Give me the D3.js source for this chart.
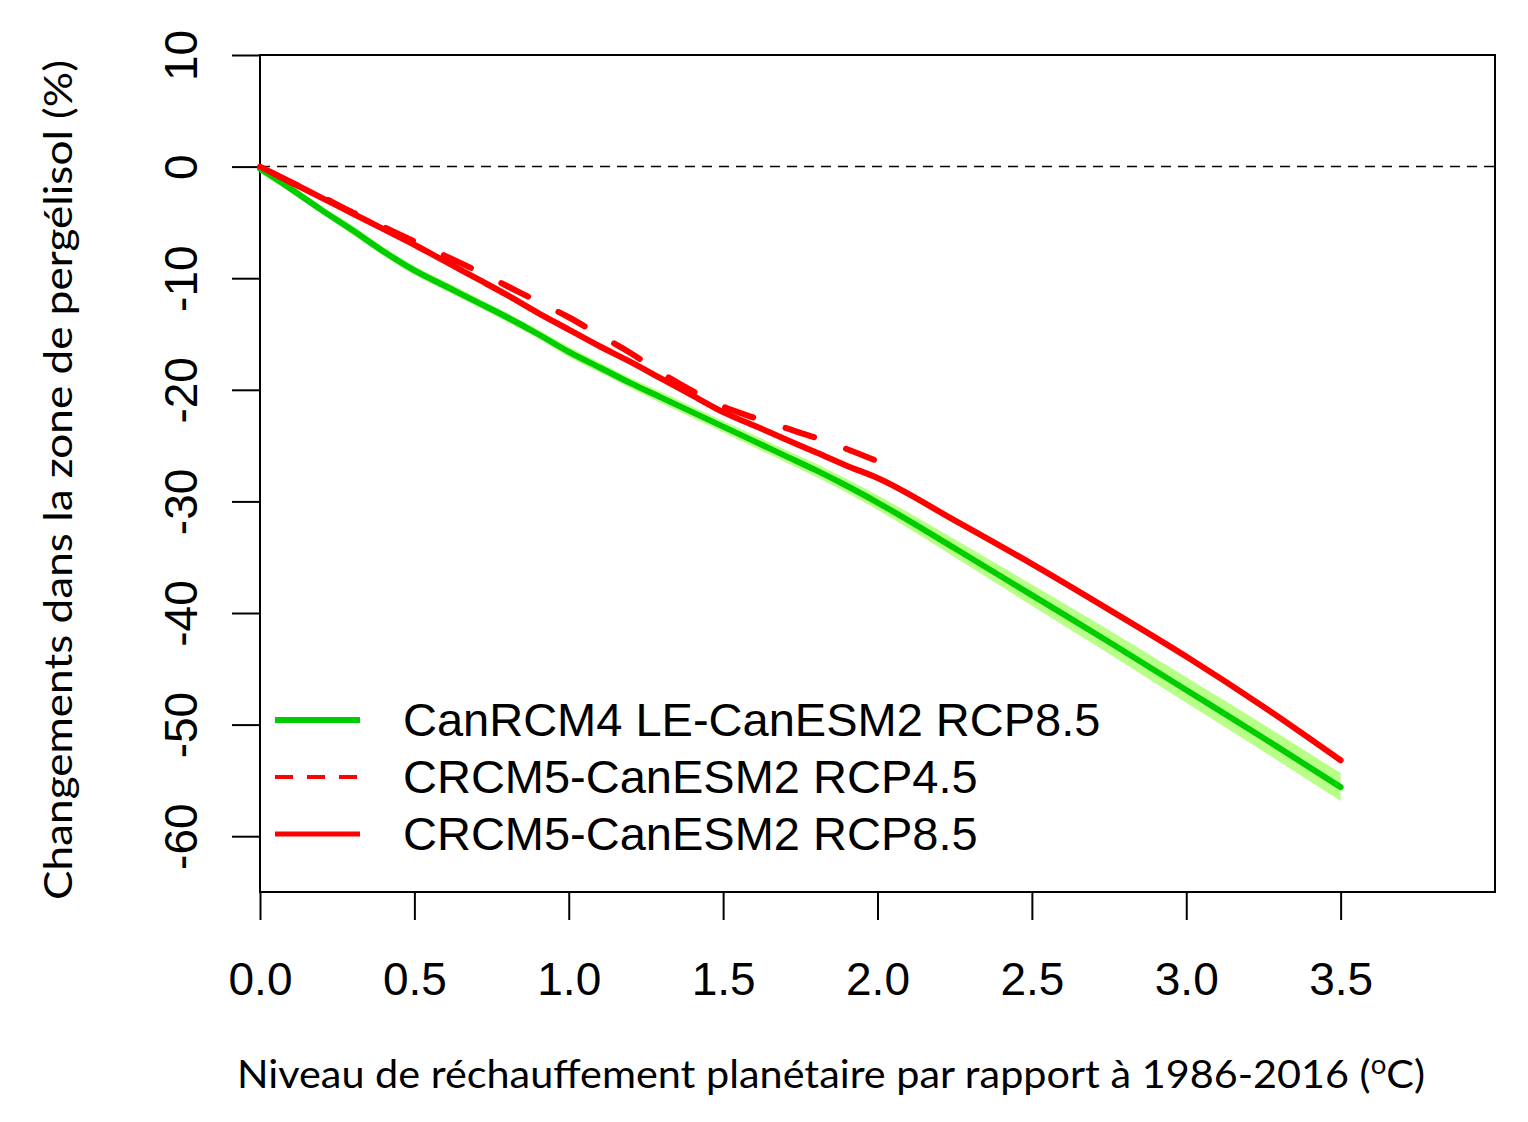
<!DOCTYPE html>
<html>
<head>
<meta charset="utf-8">
<script src="https://cdn.jsdelivr.net/npm/d3@7"></script>
<style>
  body { margin: 0; background: #fff; }
</style>
</head>
<body>
<div class="canvas"></div>
<script>
// chart data
const warming = [0, 0.1, 0.2, 0.3, 0.4, 0.5, 0.6, 0.7, 0.8, 0.9, 1.0, 1.1, 1.2, 1.3, 1.4,
  1.5, 1.6, 1.7, 1.8, 1.9, 2.0, 2.25, 2.5, 2.75, 3.0, 3.25, 3.5];
const canrcm4Rcp85 = [-0.2, -2.0, -3.9, -5.7, -7.6, -9.3, -10.7, -12.1, -13.5, -15.0, -16.6, -18.0,
  -19.4, -20.7, -22.0, -23.3, -24.6, -25.9, -27.2, -28.6, -30.1, -34.2, -38.4, -42.6, -46.9, -51.2, -55.6];
const canrcm4High = [0.15, -1.65, -3.55, -5.3, -7.2, -8.9, -10.3, -11.7, -13.1, -14.6, -16.15, -17.55,
  -18.95, -20.2, -21.5, -22.8, -24.05, -25.35, -26.6, -28.0, -29.45, -33.4, -37.45, -41.55, -45.75, -50.0, -54.35];
const canrcm4Low = [-0.55, -2.35, -4.25, -6.1, -8.0, -9.7, -11.1, -12.5, -13.9, -15.4, -17.05, -18.45,
  -19.85, -21.2, -22.5, -23.8, -25.15, -26.45, -27.8, -29.2, -30.75, -35.0, -39.35, -43.65, -48.05, -52.4, -56.85];
const crcm5Rcp85 = [0.0, -1.4, -2.8, -4.2, -5.6, -7.0, -8.5, -10.0, -11.5, -13.1, -14.6, -16.1,
  -17.5, -19.0, -20.5, -22.0, -23.2, -24.4, -25.6, -26.8, -27.9, -31.7, -35.6, -39.7, -43.9, -48.4, -53.2];
const warming45 = [0, 0.1, 0.2, 0.3, 0.4, 0.5, 0.6, 0.7, 0.8, 0.9, 1.0, 1.1, 1.2, 1.3, 1.4,
  1.5, 1.6, 1.7, 1.8, 1.9, 2.0];
const crcm5Rcp45 = [0.0, -1.4, -2.7, -4.1, -5.4, -6.7, -8.0, -9.3, -10.7, -12.1, -13.5, -15.1,
  -16.7, -18.5, -20.1, -21.5, -22.5, -23.4, -24.3, -25.3, -26.4];

const xTicks = [0, 0.5, 1.0, 1.5, 2.0, 2.5, 3.0, 3.5];
const yTicks = [-60, -50, -40, -30, -20, -10, 0, 10];
const legendLabels = ['CanRCM4 LE-CanESM2 RCP8.5', 'CRCM5-CanESM2 RCP4.5', 'CRCM5-CanESM2 RCP8.5'];

const width = 1528;
const height = 1122;

const svg = d3.select('.canvas')
  .append('svg')
  .attr('width', width)
  .attr('height', height);

// margins put the plot box at 260..1495 x 55..892
const margin = { top: 55, right: 33, bottom: 230, left: 260 };
const graphWidth = width - margin.left - margin.right;
const graphHeight = height - margin.top - margin.bottom;

const graph = svg.append('g')
  .attr('transform', `translate(${margin.left}, ${margin.top})`);

const xScale = d3.scaleLinear().domain([0, 4]).range([0, graphWidth]);
const yScale = d3.scaleLinear().domain([-65, 10]).range([graphHeight, 0]);

const tickFont = '"Liberation Sans", Arial, sans-serif';
const titleFont = 'Lato, "Open Sans", sans-serif';

// x axis
const xAxis = d3.axisBottom(xScale)
  .tickValues(xTicks)
  .tickFormat(d3.format('.1f'))
  .tickSize(28)
  .tickPadding(42);

const xg = graph.append('g')
  .attr('transform', `translate(0, ${graphHeight})`)
  .call(xAxis);
xg.select('.domain').remove();
xg.selectAll('line').attr('stroke', '#000').attr('stroke-width', 2);
xg.selectAll('text')
  .attr('fill', '#000')
  .style('font-family', tickFont)
  .style('font-size', '46px');

// y axis, labels turned like R's default (plain hyphen minus)
const yAxis = d3.axisLeft(yScale)
  .tickValues(yTicks)
  .tickFormat(d => String(d))
  .tickSize(28);

const yg = graph.append('g').call(yAxis);
yg.select('.domain').remove();
yg.selectAll('line').attr('stroke', '#000').attr('stroke-width', 2);
yg.selectAll('text')
  .attr('fill', '#000')
  .attr('transform', 'rotate(-90)')
  .attr('x', 0)
  .attr('y', -63)
  .attr('dy', 0)
  .attr('text-anchor', 'middle')
  .style('font-family', tickFont)
  .style('font-size', '46px');

// box
graph.append('rect')
  .attr('width', graphWidth)
  .attr('height', graphHeight)
  .attr('fill', 'none')
  .attr('stroke', '#000')
  .attr('stroke-width', 2);

// zero line
graph.append('line')
  .attr('x1', 0)
  .attr('x2', graphWidth)
  .attr('y1', yScale(0))
  .attr('y2', yScale(0))
  .attr('stroke', '#000')
  .attr('stroke-width', 1.5)
  .attr('stroke-dasharray', '10,7');

// uncertainty band for CanRCM4
const band = d3.area()
  .curve(d3.curveMonotoneX)
  .x((d, i) => xScale(warming[i]))
  .y0((d, i) => yScale(canrcm4Low[i]))
  .y1((d, i) => yScale(canrcm4High[i]));

graph.append('path')
  .datum(canrcm4Rcp85)
  .attr('d', band)
  .attr('fill', '#b8ff88');

const lineFor = xs => d3.line()
  .curve(d3.curveMonotoneX)
  .x((d, i) => xScale(xs[i]))
  .y(d => yScale(d));

graph.append('path')
  .datum(canrcm4Rcp85)
  .attr('d', lineFor(warming))
  .attr('fill', 'none')
  .attr('stroke', '#00cd00')
  .attr('stroke-width', 6)
  .attr('stroke-linejoin', 'round')
  .attr('stroke-linecap', 'round');

graph.append('path')
  .datum(crcm5Rcp85)
  .attr('d', lineFor(warming))
  .attr('fill', 'none')
  .attr('stroke', '#ff0000')
  .attr('stroke-width', 6)
  .attr('stroke-linejoin', 'round')
  .attr('stroke-linecap', 'round');

graph.append('path')
  .datum(crcm5Rcp45)
  .attr('d', lineFor(warming45))
  .attr('fill', 'none')
  .attr('stroke', '#ff0000')
  .attr('stroke-width', 6)
  .attr('stroke-dasharray', '30,34')
  .attr('stroke-dashoffset', -12)
  .attr('stroke-linecap', 'round');

// legend
const legendStyles = [
  { color: '#00cd00', width: 6, dash: null },
  { color: '#ff0000', width: 4, dash: '18,14' },
  { color: '#ff0000', width: 5, dash: null }
];

const legend = svg.append('g')
  .attr('transform', 'translate(275, 720)');

legendLabels.forEach((label, i) => {
  const row = legend.append('g').attr('transform', `translate(0, ${i * 57})`);
  row.append('line')
    .attr('x1', 0)
    .attr('x2', 85)
    .attr('stroke', legendStyles[i].color)
    .attr('stroke-width', legendStyles[i].width)
    .attr('stroke-dasharray', legendStyles[i].dash);
  row.append('text')
    .attr('x', 128)
    .attr('y', 16)
    .attr('fill', '#000')
    .style('font-family', tickFont)
    .style('font-size', '47px')
    .text(label);
});

// axis titles
svg.append('text')
  .attr('x', 831)
  .attr('y', 1088)
  .attr('text-anchor', 'middle')
  .attr('textLength', 1188)
  .attr('lengthAdjust', 'spacingAndGlyphs')
  .style('font-family', titleFont)
  .style('font-size', '39px')
  .html('Niveau de réchauffement planétaire par rapport à 1986-2016 (<tspan dy="-14" font-size="26">o</tspan><tspan dy="14">C)</tspan>');

svg.append('text')
  .attr('transform', 'translate(72, 480) rotate(-90)')
  .attr('text-anchor', 'middle')
  .attr('textLength', 840)
  .attr('lengthAdjust', 'spacingAndGlyphs')
  .style('font-family', titleFont)
  .style('font-size', '39px')
  .text('Changements dans la zone de pergélisol (%)');
</script>
</body>
</html>
